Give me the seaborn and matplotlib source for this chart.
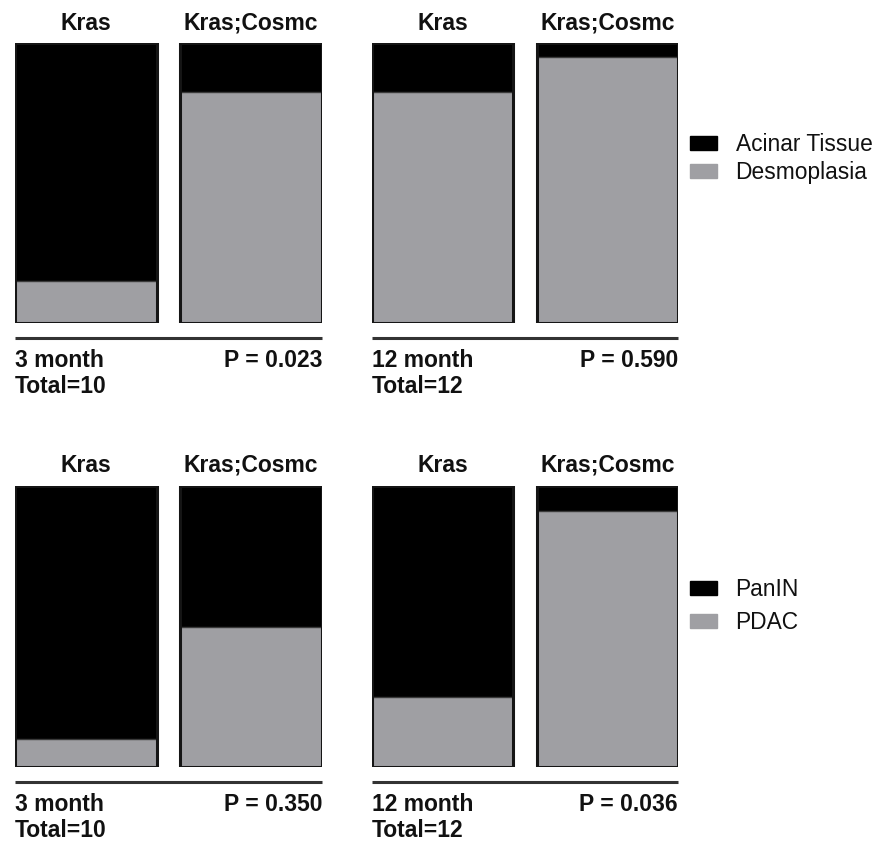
import matplotlib
matplotlib.use("Agg")
import matplotlib.pyplot as plt
import matplotlib.transforms as mtransforms
from matplotlib.patches import Patch
import seaborn as sns
import pandas as pd

sns.set_theme(style="white")
plt.rcParams['font.family'] = ['Liberation Sans', 'DejaVu Sans']

genotypes = ["Kras", "Kras;Cosmc"]
top_categories = ["Acinar Tissue", "Desmoplasia"]
bottom_categories = ["PanIN", "PDAC"]

# fractions per genotype
acinar_3m = [0.85, 0.175]
desmo_3m = [0.15, 0.825]
acinar_12m = [0.175, 0.05]
desmo_12m = [0.825, 0.95]
panin_3m = [0.90, 0.50]
pdac_3m = [0.10, 0.50]
panin_12m = [0.75, 0.09]
pdac_12m = [0.25, 0.91]

labels_top = [("3 month\nTotal=10", "P = 0.023"), ("12 month\nTotal=12", "P = 0.590")]
labels_bottom = [("3 month\nTotal=10", "P = 0.350"), ("12 month\nTotal=12", "P = 0.036")]

BLACK = "#000000"
GREY = "#9f9fa3"
TXT = "#111111"

W, H = 877, 846
fig = plt.figure(figsize=(W / 100, H / 100), dpi=100)


def px_axes(x0, y0, x1, y1):
    return fig.add_axes([x0 / W, 1 - y1 / H, (x1 - x0) / W, (y1 - y0) / H])


def panel(ax, dark, light, left_txt, p_txt):
    total = [d + l for d, l in zip(dark, light)]
    df_t = pd.DataFrame({"g": genotypes, "v": total})
    df_l = pd.DataFrame({"g": genotypes, "v": light})
    sns.barplot(data=df_t, x="g", y="v", color=BLACK, width=0.86,
                edgecolor=BLACK, linewidth=0, saturation=1, ax=ax)
    sns.barplot(data=df_l, x="g", y="v", color=GREY, width=0.86,
                edgecolor="#3a3a3a", linewidth=1.0, saturation=1, ax=ax)
    sns.barplot(data=df_t, x="g", y="v", color="#151515", width=0.86,
                fill=False, linewidth=2.2, saturation=1, ax=ax)
    ax.set_xlim(-0.43, 1.43)
    ax.set_ylim(0, 1)
    ax.set_xlabel("")
    ax.set_ylabel("")
    ax.set_xticks([])
    ax.set_yticks([])
    for s in ax.spines.values():
        s.set_visible(False)
    trans = mtransforms.blended_transform_factory(ax.transData, ax.transAxes)
    for i, g in enumerate(genotypes):
        ax.text(i, 1.073, g, transform=trans, ha="center", va="center",
                fontsize=16.5, fontweight="bold", color=TXT)
    ax.plot([0, 1], [-0.054, -0.054], transform=ax.transAxes, color="#333333",
            lw=2.2, clip_on=False, solid_capstyle="butt")
    ax.text(0, -0.092, left_txt, transform=ax.transAxes, ha="left", va="top",
            fontsize=16.5, fontweight="bold", color=TXT, linespacing=1.2)
    ax.text(1, -0.092, p_txt, transform=ax.transAxes, ha="right", va="top",
            fontsize=16.5, fontweight="bold", color=TXT)


ax1 = px_axes(15, 43.5, 322, 323)
ax2 = px_axes(372, 43.5, 678, 323)
ax3 = px_axes(15, 486, 322, 767)
ax4 = px_axes(372, 486, 678, 767)

panel(ax1, acinar_3m, desmo_3m, *labels_top[0])
panel(ax2, acinar_12m, desmo_12m, *labels_top[1])
panel(ax3, panin_3m, pdac_3m, *labels_bottom[0])
panel(ax4, panin_12m, pdac_12m, *labels_bottom[1])


def legend(cats, ycenter, spacing):
    handles = [Patch(facecolor=BLACK, edgecolor=BLACK), Patch(facecolor=GREY, edgecolor=GREY)]
    leg = fig.legend(handles, cats, loc="center left",
                     bbox_to_anchor=(690 / W, 1 - ycenter / H), frameon=False,
                     fontsize=16.4, handlelength=1.2, handleheight=0.55,
                     handletextpad=0.8, labelspacing=spacing, borderpad=0,
                     borderaxespad=0)
    for t in leg.get_texts():
        t.set_color(TXT)


legend(top_categories, 158.5, 0.2)
legend(bottom_categories, 606, 0.42)

fig.savefig("out.png", dpi=100)
